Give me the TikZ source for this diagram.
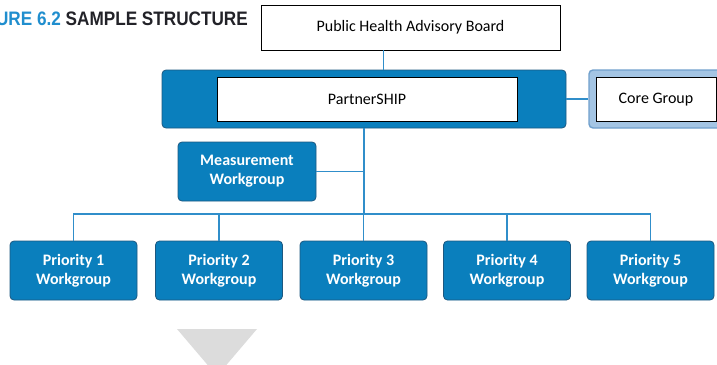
\documentclass[tikz,border=0pt]{standalone}
\usepackage{fontspec}
\setmainfont{Carlito}
\newfontfamily\titlefont[FakeStretch=0.88]{Liberation Sans}
\usepackage{tikz}
\usetikzlibrary{positioning, calc}
\definecolor{wgblue}{RGB}{10,127,189}
\definecolor{wgedge}{RGB}{28,88,128}
\definecolor{linkblue}{RGB}{48,142,202}
\definecolor{coreblue}{RGB}{164,197,228}
\definecolor{coreedge}{RGB}{112,160,204}
\definecolor{titleblue}{RGB}{32,142,206}
\definecolor{titledark}{RGB}{34,34,40}
\definecolor{arrowgray}{RGB}{220,220,220}
\tikzset{
  labelbox/.style={rectangle,draw=black,line width=0.8pt,fill=white,align=center,font=\fontsize{16}{18}\selectfont,text=black},
  bluebox/.style={rectangle,rounded corners=4pt,draw=wgedge,line width=0.8pt,fill=wgblue,align=center},
  wgnode/.style={bluebox,text=white,font=\fontsize{16}{19}\selectfont\bfseries,minimum width=127pt,minimum height=59pt},
  corebox/.style={rectangle,rounded corners=4pt,draw=coreedge,line width=1.4pt,fill=coreblue},
  link/.style={draw=linkblue,line width=1.2pt}
}

\begin{document}
\begin{tikzpicture}[x=1pt,y=-1pt]
  \useasboundingbox (0,0) rectangle (717,364);

  % title
  \node[anchor=east,inner sep=0pt,font=\titlefont\fontsize{19.5}{21}\selectfont\bfseries] (title) at (248,19)
      {\textcolor{titleblue}{URE 6.2} \textcolor{titledark}{SAMPLE STRUCTURE}};

  % board and partnership
  \node[labelbox,minimum width=299pt,minimum height=45pt] (board) at (410.5,27.5) {Public Health Advisory Board};
  \node[bluebox,minimum width=404pt,minimum height=58pt] (partner) at (364,99) {};
  \node[labelbox,minimum width=300pt,minimum height=44pt] (partnerIn) at (367,99.5) {PartnerSHIP};

  % core group
  \node[corebox,minimum width=136pt,minimum height=58pt] (core) at (657,99) {};
  \node[labelbox,minimum width=120pt,minimum height=44pt] (coreIn) at (656,99.5) {Core Group};

  % workgroups
  \node[wgnode,minimum width=138pt] (meas) at (247,171.5) {Measurement\\Workgroup};
  \node[wgnode] (prio1) at (73.5,270.5) {Priority 1\\Workgroup};
  \node[wgnode] (prio2) at (219,270.5) {Priority 2\\Workgroup};
  \node[wgnode] (prio3) at (363.5,270.5) {Priority 3\\Workgroup};
  \node[wgnode] (prio4) at (507,270.5) {Priority 4\\Workgroup};
  \node[wgnode] (prio5) at (650.5,270.5) {Priority 5\\Workgroup};

  \coordinate (bus) at (364,214);

  % connectors
  \draw[link] ([xshift=-27pt]board.south) -- ([xshift=-27pt]board.south |- partner.north);
  \draw[link] (partner.east) -- (core.west);
  \draw[link] (partner.south) -- (bus);
  \draw[link] (meas.east) -- (meas.east -| bus);
  \draw[link] (prio1.north) |- (bus);
  \draw[link] (prio2.north) |- (bus);
  \draw[link] (prio3.north) -- (prio3.north |- bus);
  \draw[link] (prio4.north) |- (bus);
  \draw[link] (prio5.north) |- (bus);

  % down arrow
  \fill[arrowgray] (177,329) -- (257,329) -- (217,376) -- cycle;
\end{tikzpicture}
\end{document}
